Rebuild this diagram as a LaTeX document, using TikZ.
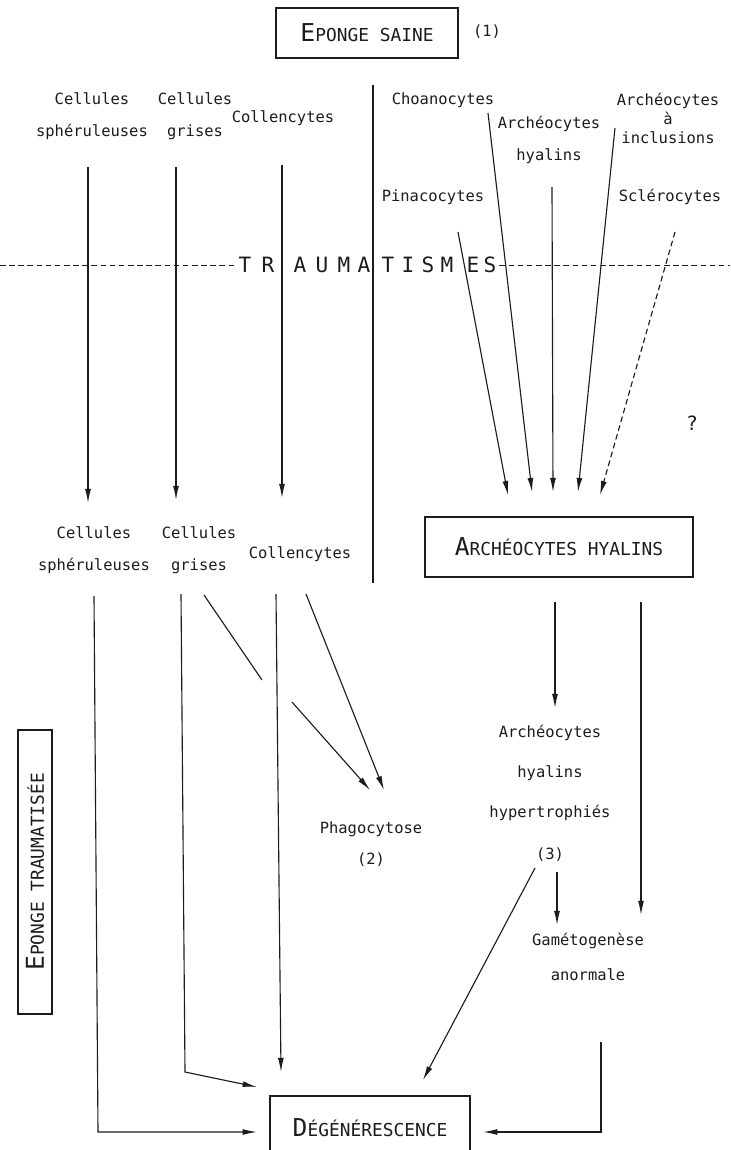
\documentclass[tikz,border=0pt]{standalone}
\usepackage{fontspec}
\setmonofont{DejaVu Sans Mono}
\usetikzlibrary{arrows.meta}
\definecolor{ink}{HTML}{1C1C1C}
\newcommand{\capsmall}[2]{{\fontsize{17.5}{18}\selectfont #1}{\fontsize{12.7}{14}\selectfont #2}}

\begin{document}
\begin{tikzpicture}[
  x=0.025cm, y=-0.025cm,
  font=\ttfamily\fontsize{11}{22.5}\selectfont,
  >={Latex[length=10pt,width=4.2pt]},
  lbl/.style={text=ink, align=center, inner sep=1pt},
  capbox/.style={draw=ink, line width=1.4pt, text=ink, inner sep=0pt},
  arrow/.style={->, draw=ink, line width=0.8pt},
  link/.style={draw=ink, line width=0.8pt},
  trl/.style={text=ink, font=\ttfamily\fontsize{15}{15}\selectfont, inner sep=0pt},
]
\fill[white] (0,0) rectangle (730,1150);
\useasboundingbox (0,0) rectangle (730,1150);

% healthy sponge
\node[capbox, minimum width=4.53cm, minimum height=1.23cm] (saine) at (367,33) {\capsmall{E}{PONGE SAINE}};
\node[lbl] (ref1) at (487,32) {(1)};

% cells before
\node[lbl] (sphA) at (92,116) {Cellules\\sphéruleuses};
\node[lbl] (grisA) at (195,116) {Cellules\\grises};
\node[lbl] (collA) at (283,118) {Collencytes};
\node[lbl] (choano) at (443,100) {Choanocytes};
\node[lbl] (hyalA) at (549,140) {Archéocytes\\hyalins};
\node[lbl, font=\ttfamily\fontsize{11}{13.5}\selectfont] (incl) at (668,118) {Archéocytes\\à\\inclusions};
\node[lbl] (pina) at (433,197) {Pinacocytes};
\node[lbl] (scler) at (670,197) {Sclérocytes};

% separator
\coordinate (sepT) at (373,85);
\coordinate (sepB) at (373,583);
\draw[ink, line width=1.4pt] (sepT) -- (sepB);

% traumatismes
\foreach \l/\x [count=\i] in {T/245,R/268,A/300,U/322,M/344,A/364,T/388,I/408,S/428,M/447,E/473,S/490}
  \node[trl] (tr\i) at (\x,265) {\l};
\coordinate (dashL) at (0,265);
\coordinate (dashR) at (730,265);
\draw[ink, dash pattern=on 4pt off 2.5pt, line width=0.7pt] (dashL) -- ([xshift=-2pt]tr1.west);
\draw[ink, dash pattern=on 4pt off 2.5pt, line width=0.7pt] ([xshift=2pt]tr12.east) -- (dashR);

% cells after
\node[lbl] (sphB) at (94,550) {Cellules\\sphéruleuses};
\node[lbl] (grisB) at (199,550) {Cellules\\grises};
\node[lbl] (collB) at (300,554) {Collencytes};
\node[capbox, minimum width=6.7cm, minimum height=1.52cm] (hyal) at (559,547) {\capsmall{A}{RCHÉOCYTES HYALINS}};
\node[lbl, font=\ttfamily\fontsize{14}{14}\selectfont] (q) at (692,423) {?};

\node[lbl, font=\ttfamily\fontsize{11}{28.5}\selectfont] (hyper) at (550,773) {Archéocytes\\hyalins\\hypertrophiés};
\node[lbl] (ref3) at (550,855) {(3)};
\node[lbl] (phago) at (371,844) {Phagocytose\\(2)};
\node[lbl, font=\ttfamily\fontsize{11}{25}\selectfont] (gameto) at (588,957) {Gamétogenèse\\anormale};
\node[capbox, minimum width=4.98cm, minimum height=1.58cm] (degen) at (370,1128) {\capsmall{D}{ÉGÉNÉRESCENCE}};
\node[capbox, rotate=90, minimum width=7.1cm, minimum height=0.85cm] (trauma) at (35,872) {\capsmall{E}{PONGE TRAUMATISÉE}};

% arrow ends
\coordinate (a1) at (88,167);  \coordinate (b1) at (88,503);
\coordinate (a2) at (176,167); \coordinate (b2) at (176,500);
\coordinate (a3) at (282,165); \coordinate (b3) at (282,498);
\coordinate (p1) at (458,232); \coordinate (q1) at (508,495);
\coordinate (p2) at (488,113); \coordinate (q2) at (532,492);
\coordinate (p3) at (552,187); \coordinate (q3) at (553,492);
\coordinate (p4) at (615,128); \coordinate (q4) at (578,492);
\coordinate (p5) at (675,232); \coordinate (q5) at (600,495);

\draw[arrow] (a1) -- (b1);
\draw[arrow] (a2) -- (b2);
\draw[arrow] (a3) -- (b3);
\draw[arrow] (p1) -- (q1);
\draw[arrow] (p2) -- (q2);
\draw[arrow] (p3) -- (q3);
\draw[arrow] (p4) -- (q4);
\draw[arrow, dash pattern=on 4pt off 2.5pt] (p5) -- (q5);

% below the box
\coordinate (h1) at (555,602); \coordinate (h2) at (555,708);
\coordinate (r1) at (641,602); \coordinate (r2) at (641,915);
\coordinate (g1) at (557,872); \coordinate (g2) at (557,925);
\draw[arrow] (h1) -- (h2);
\draw[arrow] (r1) -- (r2);
\draw[arrow] (g1) -- (g2);

% phagocytose
\coordinate (c1) at (204,595); \coordinate (c2) at (262,680);
\coordinate (c3) at (292,702); \coordinate (c4) at (370,790);
\coordinate (c5) at (306,594); \coordinate (c6) at (384,790);
\draw[link] (c1) -- (c2);
\draw[arrow] (c3) -- (c4);
\draw[arrow] (c5) -- (c6);

% towards degeneration
\coordinate (d1) at (94,596);  \coordinate (d2) at (98,1132);
\coordinate (e1) at (181,594); \coordinate (e2) at (185,1072);
\coordinate (f1) at (276,594); \coordinate (f2) at (281,1072);
\coordinate (k1) at (535,868); \coordinate (k2) at (423,1080);
\coordinate (m1) at (601,1042); \coordinate (m2) at (601,1132);
\draw[arrow] (d1) -- (d2) -- ([xshift=-9pt]degen.west |- d2);
\draw[arrow] (e1) -- (e2) -- ([xshift=-9pt,yshift=6pt]degen.north west);
\draw[arrow] (f1) -- (f2);
\draw[arrow] (k1) -- (k2);
\draw[arrow] (m1) -- (m2) -- ([xshift=9pt]degen.east |- m2);

\end{tikzpicture}
\end{document}
